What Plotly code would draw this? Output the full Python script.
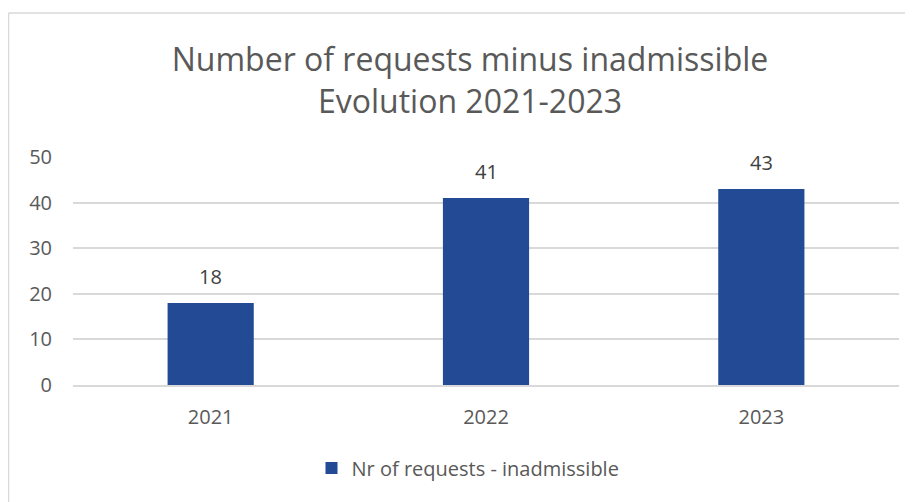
import plotly.graph_objects as go

years = ["2021", "2022", "2023"]
requests = [18, 41, 43]
series_name = "Nr of requests - inadmissible"
title_lines = ["Number of requests minus inadmissible", "Evolution 2021-2023"]

FONT = "'Open Sans', 'Noto Sans', sans-serif"
BAR = "#234A95"
TXT = "#595959"

# page body has an 8px margin: figure pixel = reference pixel - 8
OFF = 8
W, H = 913 - OFF, 502 - OFF
L, R, T, B = 73 - OFF, 913 - 899, 157 - OFF, 502 - 385
pw, ph = W - L - R, H - T - B


def px(xr):
    return (xr - OFF - L) / pw


def py(yr):
    return (H - B - (yr - OFF)) / ph


fig = go.Figure()
fig.add_trace(go.Bar(x=years, y=requests, name=series_name,
                     marker=dict(color=BAR, line=dict(width=0)), showlegend=True))

# value labels above bars (x given as category index)
for i, v in enumerate(requests):
    fig.add_annotation(x=i, y=v, text=str(v), showarrow=False, yanchor="bottom", yshift=11,
                       font=dict(size=20, color="#404040", family=FONT))

# chart border (top and left visible in the crop)
fig.add_shape(type="line", xref="paper", yref="paper", x0=px(8.5), x1=px(960), y0=py(13), y1=py(13),
              line=dict(color="#D9D9D9", width=1.5))
fig.add_shape(type="line", xref="paper", yref="paper", x0=px(8.5), x1=px(8.5), y0=py(13), y1=py(560),
              line=dict(color="#D9D9D9", width=1.5))

fig.update_layout(
    width=W, height=H,
    margin=dict(l=L, r=R, t=T, b=B, autoexpand=False),
    paper_bgcolor="white", plot_bgcolor="white",
    bargap=0.687,
    title=dict(text="<br>".join(title_lines), x=(470 - OFF) / W, xanchor="center", xref="container",
               y=1 - (71 - OFF) / H, yanchor="middle", yref="container",
               font=dict(size=32, color=TXT, family=FONT)),
    font=dict(family=FONT, color=TXT, size=20),
    legend=dict(orientation="h", x=px(468), xanchor="center", y=py(468), yanchor="middle",
                font=dict(size=20, color=TXT), itemwidth=30),
    xaxis=dict(type="category", range=[-0.5, len(years) - 0.5], showgrid=False, showline=True,
               linecolor="#D9D9D9", linewidth=1.5,
               ticks="", ticklabelstandoff=13, tickfont=dict(size=20, color=TXT)),
    yaxis=dict(range=[0, 50], dtick=10, showgrid=True, gridcolor="#D9D9D9", gridwidth=1.5,
               zeroline=False, showline=False, ticks="", ticklabelstandoff=20,
               tickfont=dict(size=20, color=TXT)),
)

fig.write_html("out.html")
